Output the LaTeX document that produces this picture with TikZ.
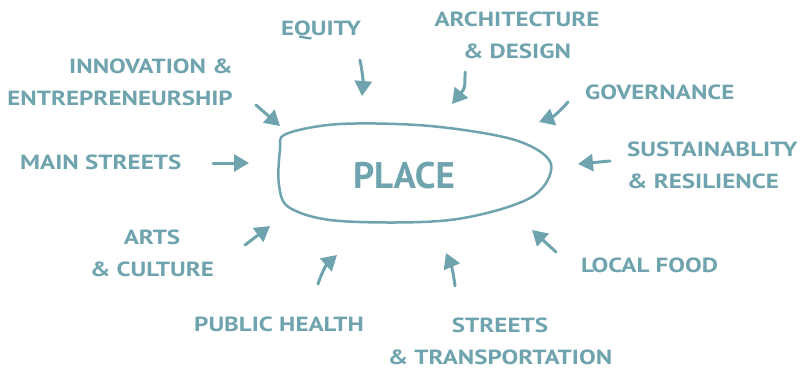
\documentclass[tikz,border=0pt]{standalone}
\usepackage{fontspec}
\setmainfont{PT Sans}[FakeStretch=1.22]
\newfontfamily\placefont{PT Sans}
\usetikzlibrary{arrows.meta}
\definecolor{placeteal}{RGB}{111,163,173}
\begin{document}
\begin{tikzpicture}[x=1pt,y=-1pt,
    lbl/.style={text=placeteal, inner sep=0pt, font=\bfseries\fontsize{20.5}{32}\selectfont},
    pointer/.style={draw=placeteal, line width=3pt, line cap=round, -{Triangle[length=15pt,width=17pt]}}]
    \useasboundingbox (0,0) rectangle (805,370);

    % the blob
    \draw [placeteal, line width=2.5pt] plot [smooth cycle, tension=0.55] coordinates
      {(286,134) (340,124) (430,126) (515,140) (551,164) (530,198) (450,220) (340,221) (290,208) (279,185) (280,150)};
    \node [lbl, font=\placefont\bfseries\fontsize{37}{37}\selectfont] (place) at (404,176) {PLACE};

    \node [lbl] (equity) at (321,30) {EQUITY};
    \node [lbl, align=center] (arch) at (517,35) {ARCHITECTURE\\\& DESIGN};
    \node [lbl, align=right, anchor=east] (innov) at (233,82) {INNOVATION \&\\ENTREPRENEURSHIP};
    \node [lbl, anchor=west] (gov) at (585,92) {GOVERNANCE};
    \node [lbl, anchor=west] (main) at (20,162) {MAIN STREETS};
    \node [lbl, align=left, anchor=west] (sust) at (627,165) {SUSTAINABLITY\\\& RESILIENCE};
    \node [lbl, align=center] (arts) at (152,253) {ARTS\\\& CULTURE};
    \node [lbl, anchor=west] (food) at (581,265) {LOCAL FOOD};
    \node [lbl, anchor=west] (health) at (194,324) {PUBLIC HEALTH};
    \node [lbl, align=center] (streets) at (500,341) {STREETS\\\& TRANSPORTATION};

    \coordinate (equity-s) at (360,60);   \coordinate (equity-t) at (362,96);
    \coordinate (innov-s) at (256,105);   \coordinate (innov-t) at (280,126);
    \coordinate (arch-s) at (465,72);     \coordinate (arch-t) at (452,104);
    \coordinate (gov-s) at (568,102);     \coordinate (gov-t) at (539,122);
    \coordinate (sust-s) at (610,161);    \coordinate (sust-t) at (578,164);
    \coordinate (main-s) at (213,163);    \coordinate (main-t) at (249,163);
    \coordinate (arts-s) at (245,245);    \coordinate (arts-t) at (270,226);
    \coordinate (health-s) at (318,284);  \coordinate (health-t) at (337,255);
    \coordinate (streets-s) at (455,286); \coordinate (streets-t) at (446,253);
    \coordinate (food-s) at (556,252);    \coordinate (food-t) at (532,230);

    \draw [pointer] (equity-s) to [bend left=8] (equity-t);
    \draw [pointer] (innov-s) -- (innov-t);
    \draw [pointer] (arch-s) .. controls (465,88) .. (arch-t);
    \draw [pointer] (gov-s) to [bend left=15] (gov-t);
    \draw [pointer] (sust-s) -- (sust-t);
    \draw [pointer] (main-s) -- (main-t);
    \draw [pointer] (arts-s) -- (arts-t);
    \draw [pointer] (health-s) to [bend left=15] (health-t);
    \draw [pointer] (streets-s) to [bend right=8] (streets-t);
    \draw [pointer] (food-s) -- (food-t);
\end{tikzpicture}
\end{document}
